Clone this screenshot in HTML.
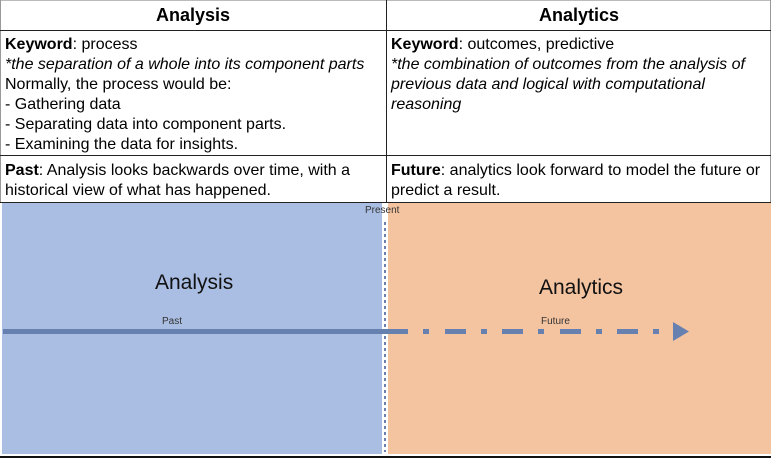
<!DOCTYPE html>
<html><head><style>
body{margin:0;width:771px;height:458px;background:#fff;position:relative;overflow:hidden;font-family:"Liberation Sans",sans-serif;color:#000}
.a{position:absolute}
.cell{position:absolute;font-size:16px;line-height:20px;padding-left:4px;box-sizing:border-box;white-space:nowrap}
</style></head><body>
<div class="a" style="left:0;top:0;width:771px;height:1px;background:#bbb"></div>
<div class="a" style="left:0;top:0;width:1px;height:203px;background:#999"></div>
<div class="a" style="left:770px;top:0;width:1px;height:203px;background:#999"></div>
<div class="a" style="left:386px;top:0;width:1px;height:203px;background:#222"></div>
<div class="a" style="left:0;top:30px;width:771px;height:1px;background:#222"></div>
<div class="a" style="left:0;top:155px;width:771px;height:1px;background:#222"></div>
<div class="a" style="left:0;top:202px;width:771px;height:1px;background:#222"></div>

<div class="a" style="left:0;top:5px;width:386px;text-align:center;font-weight:bold;font-size:18px">Analysis</div>
<div class="a" style="left:387px;top:5px;width:384px;text-align:center;font-weight:bold;font-size:18px">Analytics</div>

<div class="cell" style="left:1px;top:35px;width:385px"><b>Keyword</b>: process<br><i>*the separation of a whole into its component parts</i><br>Normally, the process would be:<br>- Gathering data<br>- Separating data into component parts.<br>- Examining the data for insights.</div>
<div class="cell" style="left:387px;top:35px;width:384px"><b>Keyword</b>: outcomes, predictive<br><i>*the combination of outcomes from the analysis of<br>previous data and logical with computational<br>reasoning</i></div>
<div class="cell" style="left:1px;top:161px;width:385px"><b>Past</b>: Analysis looks backwards over time, with a<br>historical view of what has happened.</div>
<div class="cell" style="left:387px;top:161px;width:384px"><b>Future</b>: analytics look forward to model the future or<br>predict a result.</div>

<div class="a" style="left:2px;top:203px;width:380px;height:251px;background:#aabee3"></div>
<div class="a" style="left:388px;top:203px;width:383px;height:251px;background:#f4c3a0"></div>
<div class="a" style="left:384px;top:222px;width:2px;height:230px;background:repeating-linear-gradient(#6a80b0 0 3px,#fff 3px 6px)"></div>
<div class="a" style="left:0;top:456px;width:771px;height:2px;background:#111"></div>

<div class="a" style="left:155px;top:271px;font-size:21px;color:#111">Analysis</div>
<div class="a" style="left:539px;top:276px;font-size:21px;color:#111">Analytics</div>
<div class="a" style="left:162px;top:316px;font-size:10px;color:#333">Past</div>
<div class="a" style="left:541px;top:316px;font-size:10px;color:#333">Future</div>
<div class="a" style="left:365px;top:205px;font-size:10px;color:#333">Present</div>

<svg class="a" style="left:0;top:0" width="771" height="458">
<g fill="#6680b0">
<rect x="3" y="329" width="405" height="5"/>
<rect x="423" y="329" width="6" height="5"/>
<rect x="445" y="329" width="21" height="5"/>
<rect x="481" y="329" width="6" height="5"/>
<rect x="502" y="329" width="21" height="5"/>
<rect x="538" y="329" width="6" height="5"/>
<rect x="560" y="329" width="21" height="5"/>
<rect x="596" y="329" width="6" height="5"/>
<rect x="617" y="329" width="21" height="5"/>
<rect x="653" y="329" width="6" height="5"/>
<polygon points="673,322 689,331.5 673,341"/>
</g>
</svg>
</body></html>
